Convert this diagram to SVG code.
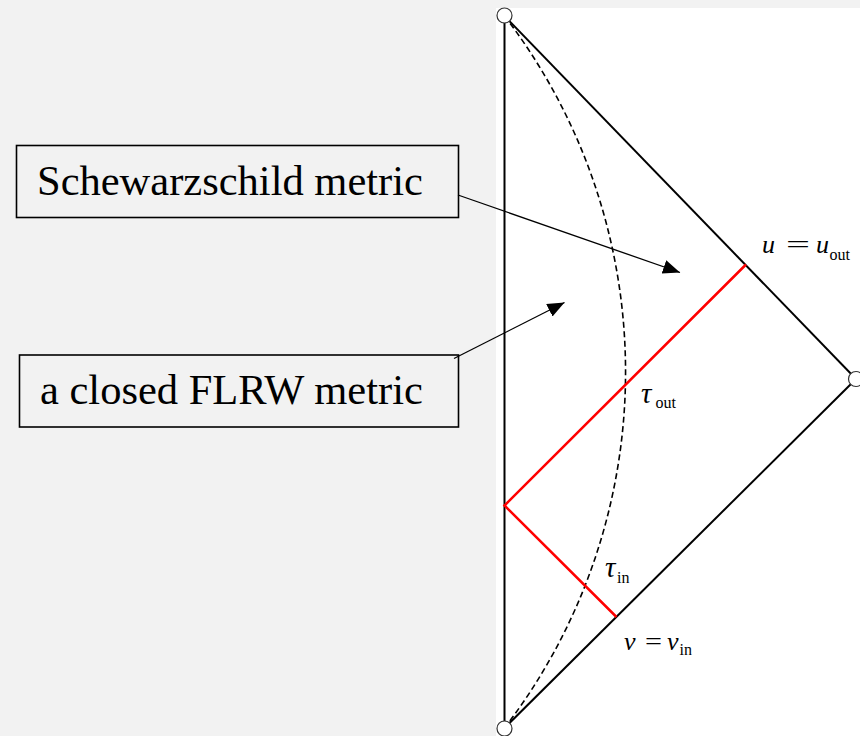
<svg xmlns="http://www.w3.org/2000/svg" width="860" height="736" viewBox="0 0 860 736">
<style>
.box{fill:none;stroke:#000;stroke-width:1.6}
.lbl{font-family:"Liberation Serif","Times New Roman",serif;font-size:42.5px;fill:#000}
.m{font-family:"Liberation Serif","Times New Roman",serif;fill:#000}
.it{font-style:italic;font-size:26px}
.tau{font-style:italic;font-size:29px}
.sub{font-size:16px}
.eq{font-size:26px}
.ln{stroke:#000;stroke-width:2;fill:none}
.red{stroke:#ff0000;stroke-width:2.5;fill:none}
.dash{stroke:#000;stroke-width:1.6;fill:none;stroke-dasharray:6 3.5}
.arr{stroke:#000;stroke-width:1.3;fill:none;marker-end:url(#ah)}
.pt{fill:#fff;stroke:#333;stroke-width:1.2}
</style>
<defs>
<marker id="ah" markerUnits="userSpaceOnUse" markerWidth="18" markerHeight="16" refX="17" refY="7" orient="auto">
<path d="M0,0 L17,7 L0,14 Z" fill="#000"/>
</marker>
</defs>
<rect x="0" y="0" width="860" height="736" fill="#f2f2f2"/>
<rect x="496" y="8" width="364" height="728" fill="#ffffff"/>
<g id="diagram-lines">
<line class="ln" x1="504.5" y1="16" x2="504.5" y2="728"/>
<line class="ln" x1="504.5" y1="16" x2="856" y2="379"/>
<line class="ln" x1="856" y1="379" x2="504.5" y2="728"/>
<path class="dash" d="M504.5,16 A584,584 0 0 1 504.5,728"/>
<polyline class="red" points="746,264.5 504.5,505.5 616.5,617"/>
</g>
<g id="connectors">
<line class="arr" x1="458" y1="195" x2="680" y2="272.5"/>
<line class="arr" x1="454" y1="358.5" x2="564.5" y2="302.5"/>
</g>
<g id="node-schwarzschild">
<rect class="box" x="16.5" y="145.5" width="442" height="72"/>
<text class="lbl" x="37" y="195">Schewarzschild metric</text>
</g>
<g id="node-flrw">
<rect class="box" x="19.5" y="355" width="439" height="72"/>
<text class="lbl" x="40" y="404">a closed FLRW metric</text>
</g>
<g id="node-top"><circle class="pt" cx="504.5" cy="15.5" r="7.5"/></g>
<g id="node-bottom"><circle class="pt" cx="504.5" cy="728.5" r="7.5"/></g>
<g id="node-right"><circle class="pt" cx="856" cy="379" r="7.5"/></g>
<g id="label-uout">
<text class="m it" x="762" y="253">u</text>
<text class="m eq" x="786" y="253" textLength="24" lengthAdjust="spacingAndGlyphs">=</text>
<text class="m it" x="816" y="253">u</text>
<text class="m sub" x="829.5" y="260">out</text>
</g>
<g id="label-tauout">
<text class="m tau" x="641" y="403">τ</text>
<text class="m sub" x="655.5" y="408">out</text>
</g>
<g id="label-tauin">
<text class="m tau" x="605" y="577">τ</text>
<text class="m sub" x="617" y="582.5">in</text>
</g>
<g id="label-vin">
<text class="m it" x="624" y="650">v</text>
<text class="m eq" x="645" y="650" textLength="17" lengthAdjust="spacingAndGlyphs">=</text>
<text class="m it" x="667" y="650">v</text>
<text class="m sub" x="679.5" y="655">in</text>
</g>
</svg>
